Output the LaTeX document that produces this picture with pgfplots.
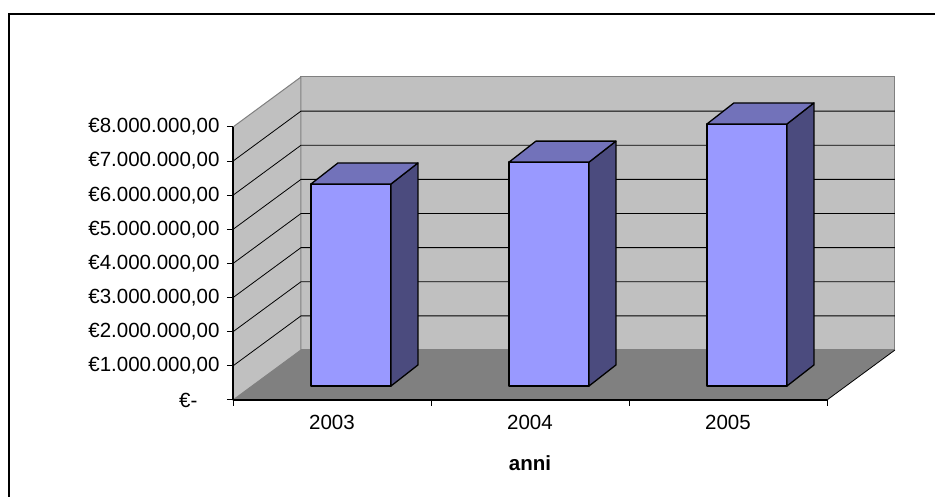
\documentclass[border=0pt]{standalone}
\usepackage{fontspec}
\setmainfont{Liberation Sans}
\usepackage{pgfplots}
\usepackage{pgfplotstable}
\pgfplotsset{compat=1.18}
\pgfplotsset{every non boxed x axis/.style={}, every non boxed y axis/.style={}}

\definecolor{wall}{HTML}{C0C0C0}
\definecolor{floorc}{HTML}{808080}
\definecolor{barfront}{HTML}{9999FF}
\definecolor{bartop}{HTML}{7272BA}
\definecolor{barside}{HTML}{4B4B7E}

% yearly amounts, in millions of euro
\pgfplotstableread{
pos year value
0.5 2003 5.92
1.5 2004 6.56
2.5 2005 7.68
}\bars

\newcommand\lbl{\fontsize{20.5pt}{24pt}\selectfont}
% expand the coordinates now, draw at the end of the axis
\newcommand\emit[1]{\edef\tmp{#1}\tmp}

% depth of floor and walls (axis units)
\def\dx{0.3434}\def\dy{1.4652}
% bar body: half width, offsets of front and back faces
\def\hw{0.202}\def\fx{0.096}\def\fy{0.410}\def\bx{0.232}\def\by{1.026}

\begin{document}
\begin{tikzpicture}
\useasboundingbox (0,0) rectangle (935pt,497pt);
\fill[white] (0,0) rectangle (935pt,497pt);
\draw[line width=2pt] (9pt,-2pt) -- (9pt,483pt) -- (937pt,483pt);
\begin{axis}[
  at={(233pt,97pt)}, anchor=south west,
  x=198pt, y=34.125pt,
  xmin=0, xmax=3, ymin=0, ymax=8,
  clip=false, axis on top,
  axis x line*=bottom, axis y line*=left,
  axis line style={-, black, line width=1.2pt},
  tick align=outside, major tick length=6pt,
  every tick/.style={black, line width=1pt},
  xtick={0,1,2,3}, xticklabels={},
  extra x ticks={0.5,1.5,2.5},
  extra x tick labels={2003,2004,2005},
  extra x tick style={major tick length=0pt,
    xticklabel style={font=\lbl, anchor=base, yshift=-30pt}},
  ytick={0,...,8},
  yticklabels={{€-\hspace*{22pt}},{€1.000.000,00},{€2.000.000,00},{€3.000.000,00},
    {€4.000.000,00},{€5.000.000,00},{€6.000.000,00},{€7.000.000,00},{€8.000.000,00}},
  yticklabel style={font=\lbl, anchor=east, xshift=-4pt},
  xlabel={anni},
  xlabel style={font=\lbl\bfseries, at={(axis description cs:0.5,0)}, anchor=base, yshift=-71pt},
]
% back wall, side wall and floor
\fill[wall, draw=floorc, line width=1pt] (axis cs:0.3434,1.4652) rectangle (axis cs:3.3434,9.4652);
\fill[wall, draw=floorc, line width=1pt] (axis cs:0,0) -- (axis cs:0,8) -- (axis cs:0.3434,9.4652) -- (axis cs:0.3434,1.4652) -- cycle;
\fill[floorc] (axis cs:0,0) -- (axis cs:3,0) -- (axis cs:3.3434,1.4652) -- (axis cs:0.3434,1.4652) -- cycle;
\draw[black, line width=0.8pt] (axis cs:3,0) -- (axis cs:3.3434,1.4652);
% gridlines on the walls
\pgfplotsinvokeforeach{1,...,7}{
  \pgfmathsetmacro\yk{#1+\dy}
  \emit{\noexpand\draw[black, line width=0.8pt] (axis cs:0,#1) -- (axis cs:\dx,\yk) -- (axis cs:3.3434,\yk);}
}
% bars
\pgfplotstablegetrowsof{\bars}
\pgfmathtruncatemacro\nlast{\pgfplotsretval-1}
\pgfplotsinvokeforeach{0,...,\nlast}{
  \pgfplotstablegetelem{#1}{pos}\of\bars \let\bc\pgfplotsretval
  \pgfplotstablegetelem{#1}{value}\of\bars \let\bv\pgfplotsretval
  \pgfmathsetmacro\xa{\bc-\hw+\fx}
  \pgfmathsetmacro\xb{\bc+\hw+\fx}
  \pgfmathsetmacro\xc{\bc+\hw+\bx}
  \pgfmathsetmacro\xd{\bc-\hw+\bx}
  \pgfmathsetmacro\yc{\bv+\fy}
  \pgfmathsetmacro\yd{\bv+\by}
  \emit{\noexpand\filldraw[fill=barfront, draw=black, line width=1.3pt, line join=round] (axis cs:\xa,\fy) rectangle (axis cs:\xb,\yc);}
  \emit{\noexpand\filldraw[fill=barside, draw=black, line width=1.3pt, line join=round] (axis cs:\xb,\fy) -- (axis cs:\xc,\by) -- (axis cs:\xc,\yd) -- (axis cs:\xb,\yc) -- cycle;}
  \emit{\noexpand\filldraw[fill=bartop, draw=black, line width=1.3pt, line join=round] (axis cs:\xa,\yc) -- (axis cs:\xb,\yc) -- (axis cs:\xc,\yd) -- (axis cs:\xd,\yd) -- cycle;}
}
\end{axis}
\end{tikzpicture}
\end{document}
